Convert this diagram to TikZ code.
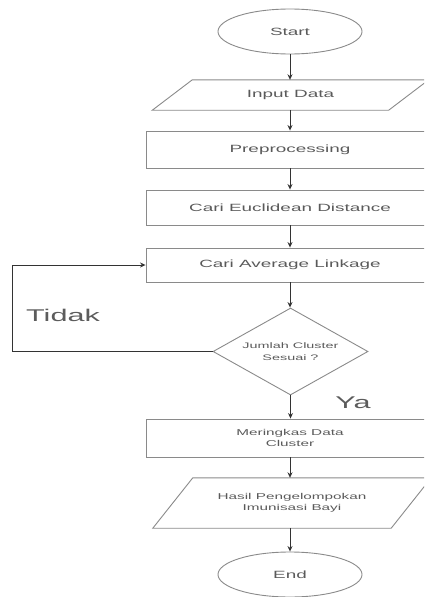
\documentclass[tikz,border=0pt]{standalone}
\usepackage{fontspec}
\usetikzlibrary{shapes.geometric,arrows.meta}
\newfontfamily\widefont[FakeStretch=1.8]{Liberation Sans}
\definecolor{linecol}{HTML}{8A8A8A}
\definecolor{txtcol}{HTML}{5A5A5A}
\definecolor{arrcol}{HTML}{333333}
\tikzset{
  every node/.style={text=txtcol, inner sep=0pt, align=center},
  bigtxt/.style={font=\widefont\fontsize{10.5}{12}\selectfont},
  smalltxt/.style={font=\widefont\fontsize{8.5}{11}\selectfont},
  term/.style={ellipse, draw=linecol, line width=0.9pt, minimum width=144, minimum height=45, bigtxt},
  procbox/.style={rectangle, draw=linecol, line width=0.9pt, minimum width=288},
  iobox/.style={rectangle, minimum width=236},
  ioline/.style={draw=linecol, line width=0.9pt},
  decbox/.style={diamond, draw=linecol, line width=0.9pt, minimum width=155, minimum height=87, aspect=1.78,
    font=\widefont\fontsize{8}{12.5}\selectfont},
  arr/.style={draw=arrcol, line width=0.9pt, -{Stealth[length=5.5pt,width=5pt]}},
  lbl/.style={font=\widefont\fontsize{17}{20}\selectfont, text=arrcol!80}
}
\begin{document}
\begin{tikzpicture}[x=1pt,y=-1pt]
\useasboundingbox (0,0) rectangle (424,597);
\clip (0,0) rectangle (424,597);
\node[term] (start) at (290,31.5) {Start};
\node[iobox, bigtxt, minimum height=30] (input) at (290.5,95) {Input Data};
\node[procbox, bigtxt, minimum height=37] (prep) at (290,149.5) {Preprocessing};
\node[procbox, bigtxt, minimum height=35] (eucl) at (290,207.5) {Cari Euclidean Distance};
\node[procbox, bigtxt, minimum height=34] (avg) at (290,265) {Cari Average Linkage};
\node[decbox] (dec) at (290.5,351.5) {Jumlah Cluster\\Sesuai ?};
\node[procbox, smalltxt, minimum height=38] (ring) at (290,438) {Meringkas Data\\Cluster};
\node[iobox, smalltxt, minimum height=50, minimum width=238] (hasil) at (292,503) {Hasil Pengelompokan\\Imunisasi Bayi};
\node[term] (end) at (290,574.5) {End};
\foreach \n in {input,hasil}{
  \draw[ioline] ([xshift=-20]\n.south west) -- ([xshift=20]\n.north west) --
    ([xshift=20]\n.north east) -- ([xshift=-20]\n.south east) -- cycle;
}
\coordinate (loopx) at (12,300);
\draw[arr] (start) -- (start.south |- input.north);
\draw[arr] (input.south -| prep.north) -- (prep);
\draw[arr] (prep) -- (eucl);
\draw[arr] (eucl) -- (avg);
\draw[arr] (avg) -- (avg.south |- dec.north);
\draw[arr] (dec) -- (dec.south |- ring.north);
\draw[arr] (ring) -- (ring.south |- hasil.north);
\draw[arr] (hasil.south -| end.north) -- (end);
\draw[arr] (dec.west) -- (dec.west -| loopx) |- (avg.west);
\node[lbl] (tidak) at (63,315) {Tidak};
\node[lbl] (ya) at (353,403) {Ya};
\end{tikzpicture}
\end{document}
